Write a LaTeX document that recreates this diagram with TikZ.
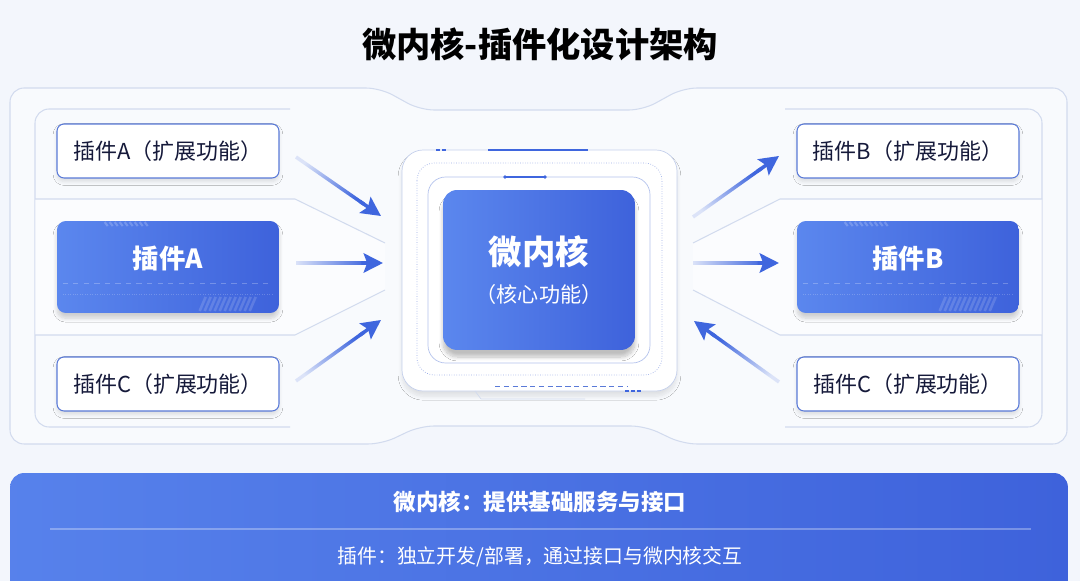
\documentclass[tikz,border=0pt]{standalone}
\usepackage{fontspec}
\setmainfont{Noto Sans CJK SC}
\usetikzlibrary{arrows.meta,fadings,shadows.blur,calc}

\definecolor{bgcol}{HTML}{F3F6FC}
\definecolor{blueL}{HTML}{5B87EE}
\definecolor{blueD}{HTML}{3E62DB}
\definecolor{arrowcol}{HTML}{3F66DE}
\definecolor{edgecol}{HTML}{D2DBEE}
\definecolor{boxline}{HTML}{5A7AD8}
\definecolor{txtcol}{HTML}{15193A}

\tikzfading[name=tailfade,left color=transparent!85,right color=transparent!0]

\begin{document}
\begin{tikzpicture}[x=0.02cm,y=-0.02cm,>={Stealth[length=11pt,width=11pt,inset=2pt]},
    plug/.style={draw=boxline,line width=0.6pt,fill=white,rounded corners=4pt,
      minimum width=4.44cm,minimum height=1.08cm,text=txtcol,
      font=\fontsize{12.5}{14}\selectfont,
      blur shadow={shadow xshift=0pt,shadow yshift=-2pt,shadow opacity=12,shadow blur steps=6}},
    plugcore/.style={rounded corners=5pt,left color=blueL,right color=blueD,
      minimum width=4.44cm,minimum height=1.84cm,text=white,text depth=11pt,
      font=\fontsize{15}{18}\selectfont\bfseries,
      blur shadow={shadow xshift=0pt,shadow yshift=-3pt,shadow opacity=18,shadow blur steps=8}},
    kernel/.style={rounded corners=8pt,left color=blueL,right color=blueD,
      minimum width=3.84cm,minimum height=3.2cm,text=white,align=center,
      blur shadow={shadow xshift=0pt,shadow yshift=-4pt,shadow opacity=25,shadow blur steps=10}},
    panel/.style={draw=edgecol,line width=0.6pt},
    shaft/.style={draw=arrowcol,line width=2pt,path fading=tailfade},
    tip/.style={->,draw=arrowcol,line width=2pt},
    banner/.style={rounded corners=8pt,left color=blueL!85!blueD,right color=blueD,
      minimum width=21.16cm,minimum height=2.6cm}]
  \useasboundingbox[fill=bgcol] (0,0) rectangle (1080,581);

  % frames
  \draw[panel,fill=white,fill opacity=0.45,rounded corners=8pt] (10,88) -- (380,88) -- (420,110)
    -- (643,110) -- (683,88) -- (1067,88) -- (1067,444) -- (683,444) -- (645,426)
    -- (420,426) -- (382,444) -- (10,444) -- cycle;
  \draw[panel,rounded corners=8pt] (290,109) -- (35,109) -- (35,427) -- (290,427);
  \draw[panel,rounded corners=8pt] (785,109) -- (1042,109) -- (1042,427) -- (785,427);
  \fill[white,opacity=0.5] (35,199) -- (295,199) -- (385,243) -- (385,290) -- (295,335) -- (35,335) -- cycle;
  \fill[white,opacity=0.5] (1042,199) -- (780,199) -- (693,243) -- (693,290) -- (780,335) -- (1042,335) -- cycle;
  \draw[panel] (35,199) -- (295,199) -- (385,243);
  \draw[panel] (35,335) -- (295,335) -- (385,290);
  \draw[panel] (1042,199) -- (780,199) -- (693,243);
  \draw[panel] (1042,335) -- (780,335) -- (693,290);

  \node[font=\fontsize{19.5}{22}\selectfont\bfseries,text=black] (title) at (540,44) {微内核-插件化设计架构};

  % core
  \draw[edgecol!90!boxline,fill=white,rounded corners=12pt,
    blur shadow={shadow xshift=0pt,shadow yshift=-3pt,shadow opacity=10,shadow blur steps=8}]
    (402,150) rectangle (677,391);
  \draw[edgecol] (475,391) -- (481,399) -- (585,399);
  \draw[arrowcol,line width=1.2pt] (488,150) -- (588,150);
  \draw[arrowcol,line width=1.2pt,dash pattern=on 2pt off 1.5pt] (436,150) -- (448,150);
  \draw[arrowcol,line width=1.2pt,dash pattern=on 2pt off 1.5pt] (625,391) -- (642,391);
  \draw[boxline!60,densely dotted,rounded corners=10pt] (417,163) rectangle (662,375);
  \draw[boxline!45,rounded corners=10pt] (428,177) rectangle (650,363);
  \draw[arrowcol,line width=0.8pt] (505,177) -- (545,177);
  \fill[arrowcol] (505,177) circle (1pt) (545,177) circle (1pt);
  \draw[boxline,densely dashed] (495,386) -- (628,386);
  \node[kernel] (kern) at (539,270) {\fontsize{19}{22}\selectfont\bfseries 微内核\\[8pt]
    \fontsize{12}{14}\selectfont （核心功能）};

  % plugins
  \node[plug] (pA1) at (168,151) {插件A（扩展功能）};
  \node[plugcore] (pA) at (168,267) {插件A};
  \node[plug] (pC1) at (168,384) {插件C（扩展功能）};
  \node[plug] (pB1) at (908,151) {插件B（扩展功能）};
  \node[plugcore] (pB) at (908,267) {插件B};
  \node[plug] (pC2) at (908,384) {插件C（扩展功能）};
  \foreach \n in {pA,pB} {
    \draw[white,opacity=0.25,dashed] ([shift={(6,16)}]\n.west) -- ([shift={(-6,16)}]\n.east);
    \draw[white,opacity=0.2,densely dotted] ([shift={(6,27)}]\n.west) -- ([shift={(-6,27)}]\n.east);
    \foreach \i in {0,...,8}
      \draw[white,opacity=0.2,line width=1.2pt] ([shift={(48+\i*5,-45)}]\n.west) -- ++(3,4);
    \foreach \i in {0,...,10}
      \draw[white,opacity=0.15,line width=1.5pt] ([shift={(143+\i*5,44)}]\n.west) -- ++(6,-14);
  }

  % arrows
  \coordinate (a1s) at (296,157); \coordinate (a1e) at (381,216);
  \coordinate (a2s) at (296,263); \coordinate (a2e) at (383,263);
  \coordinate (a3s) at (296,381); \coordinate (a3e) at (381,320);
  \coordinate (b1s) at (693,217); \coordinate (b1e) at (779,156);
  \coordinate (b2s) at (693,263); \coordinate (b2e) at (779,263);
  \coordinate (b3s) at (779,382); \coordinate (b3e) at (694,321);
  \draw[shaft,fading angle=-35] (a1s) -- ($(a1s)!0.8!(a1e)$);
  \draw[shaft] (a2s) -- ($(a2s)!0.8!(a2e)$);
  \draw[shaft,fading angle=36] (a3s) -- ($(a3s)!0.8!(a3e)$);
  \draw[shaft,fading angle=35] (b1s) -- ($(b1s)!0.8!(b1e)$);
  \draw[shaft] (b2s) -- ($(b2s)!0.8!(b2e)$);
  \draw[shaft,fading angle=145] (b3s) -- ($(b3s)!0.8!(b3e)$);
  \foreach \a in {a1,a2,a3,b1,b2,b3}
    \draw[tip] ($(\a s)!0.75!(\a e)$) -- (\a e);

  % summary
  \node[banner] (foot) at (539,538) {};
  \draw[white,opacity=0.3,line width=1pt] ([shift={(40,-9)}]foot.west) -- ([shift={(-37,-9)}]foot.east);
  \node[text=white,font=\fontsize{12.8}{15}\selectfont\bfseries] (sum1) at (540,502) {微内核：提供基础服务与接口};
  \node[text=white,font=\fontsize{11.3}{14}\selectfont] (sum2) at (540,557) {插件：独立开发/部署，通过接口与微内核交互};
\end{tikzpicture}
\end{document}
